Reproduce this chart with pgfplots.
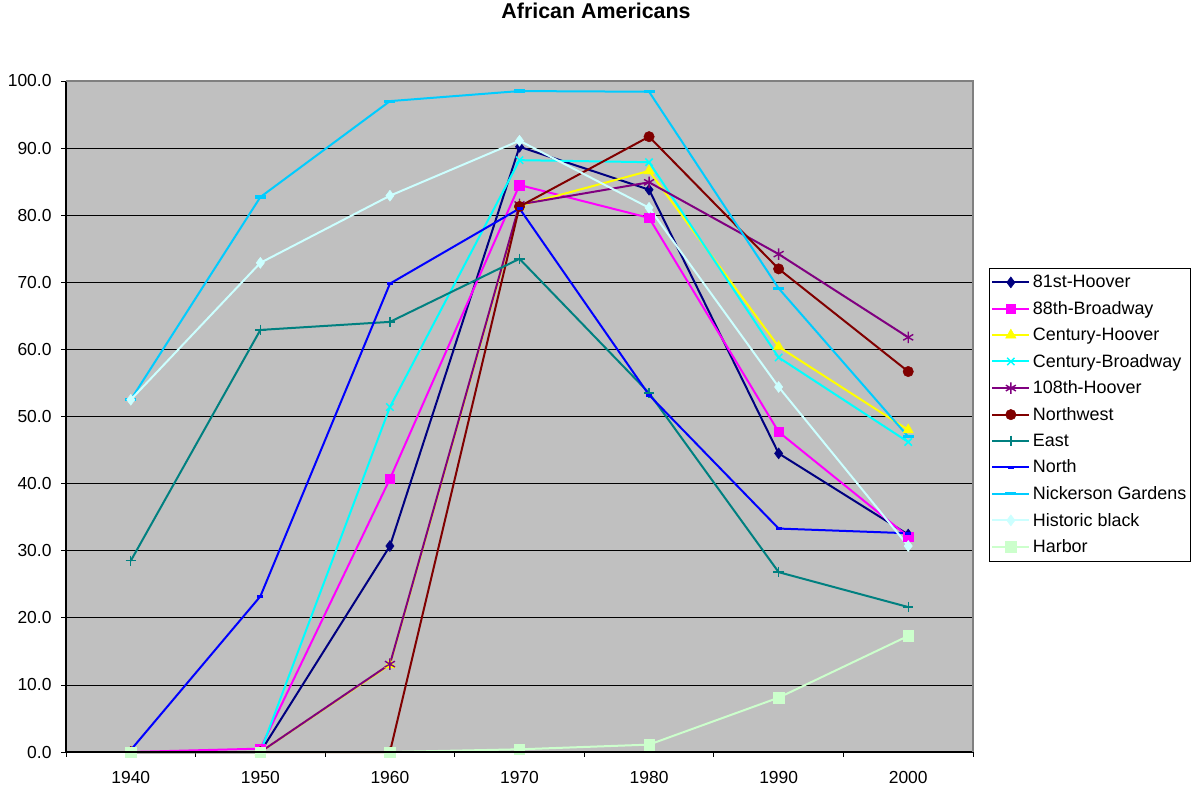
\documentclass[border=0pt]{standalone}
\usepackage{fontspec}
\setmainfont{Liberation Sans}
\usepackage{pgfplots}
\pgfplotsset{compat=1.18}
\definecolor{cNavy}{HTML}{000080}
\definecolor{cMag}{HTML}{FF00FF}
\definecolor{cYel}{HTML}{FFFF00}
\definecolor{cCyan}{HTML}{00FFFF}
\definecolor{cPurp}{HTML}{800080}
\definecolor{cMaroon}{HTML}{800000}
\definecolor{cTeal}{HTML}{008080}
\definecolor{cBlue}{HTML}{0000FF}
\definecolor{cSky}{HTML}{00CCFF}
\definecolor{cLCyan}{HTML}{CCFFFF}
\definecolor{cLGreen}{HTML}{CCFFCC}
\definecolor{plotbg}{HTML}{C0C0C0}
\begin{document}
\begin{tikzpicture}
\useasboundingbox (-66bp,-38bp) rectangle (1128bp,752bp);
\begin{axis}[
  at={(0,0)}, anchor=south west,
  scale only axis, width=907bp, height=671bp,
  xmin=1935, xmax=2005, ymin=0, ymax=100,
  clip=false,
  axis background/.style={fill=plotbg},
  axis line style={draw=none},
  xtick={1935,1945,...,2005}, xticklabels={},
  extra x ticks={1940,1950,1960,1970,1980,1990,2000},
  extra x tick labels={1940,1950,1960,1970,1980,1990,2000},
  extra x tick style={major tick length=0pt, grid=none},
  ytick={0,10,...,100},
  ymajorgrids, grid style={black, line width=0.8bp},
  tick align=outside, major tick length=5bp,
  tick style={black, line width=0.8bp},
  xtick pos=bottom, ytick pos=left,
  ticklabel style={font=\fontsize{17.5}{20}\selectfont},
  yticklabel style={/pgf/number format/.cd, fixed, fixed zerofill, precision=1, /tikz/.cd, xshift=-6bp},
  xticklabel style={yshift=-16bp},
  /pgf/number format/assume math mode=true,
  title={African Americans},
  title style={at={(0.5844,1.0954)}, anchor=center, font=\bfseries\fontsize{21.5}{25}\selectfont},
  legend cell align=left,
  legend style={at={(1.0176,0.7213)}, anchor=north west, draw=black, line width=0.8bp, fill=white,
    font=\fontsize{18}{21}\selectfont, row sep=9.1bp, inner xsep=2bp, inner ysep=5.5bp,
    nodes={inner xsep=2.5bp, inner ysep=1.5bp}},
  legend image code/.code={\draw[mark repeat=2,mark phase=2,#1] plot coordinates {(0bp,0bp) (18.5bp,0bp) (37bp,0bp)};},
  every axis plot/.append style={line width=2bp},
  after end axis/.code={
    \draw[black, line width=1.2bp] (rel axis cs:0,1) -- (rel axis cs:0,0) -- (rel axis cs:1,0);
    \draw[gray, line width=1.8bp] (rel axis cs:0,1) -- (rel axis cs:1,1) -- (rel axis cs:1,0);
  },
]
\addplot[color=cNavy, mark=diamond*, mark size=5.5bp, mark options={fill=cNavy, line width=0.5bp}]
  coordinates {(1940,0)(1950,0)(1960,30.7)(1970,90.2)(1980,83.8)(1990,44.5)(2000,32.4)};
\addlegendentry{81st-Hoover}
\addplot[color=cMag, mark=square*, mark size=4.8bp, mark options={fill=cMag, line width=0.5bp}]
  coordinates {(1940,0)(1950,0.5)(1960,40.7)(1970,84.5)(1980,79.6)(1990,47.7)(2000,32.1)};
\addlegendentry{88th-Broadway}
\addplot[color=cYel, mark=triangle*, mark size=6bp, mark options={fill=cYel, line width=0.5bp}]
  coordinates {(1940,0)(1950,0)(1960,13.0)(1970,81.4)(1980,86.6)(1990,60.4)(2000,48.0)};
\addlegendentry{Century-Hoover}
\addplot[color=cCyan, mark=x, mark size=5.2bp, mark options={line width=1.5bp}]
  coordinates {(1940,0)(1950,0)(1960,51.4)(1970,88.2)(1980,87.9)(1990,58.8)(2000,46.2)};
\addlegendentry{Century-Broadway}
\addplot[color=cPurp, mark=asterisk, mark size=5.8bp, mark options={line width=1.4bp}]
  coordinates {(1940,0)(1950,0)(1960,13.1)(1970,81.6)(1980,84.9)(1990,74.2)(2000,61.8)};
\addlegendentry{108th-Hoover}
\addplot[color=cMaroon, mark=*, mark size=5.2bp, mark options={fill=cMaroon, line width=0.5bp}]
  coordinates {(1940,0)(1950,0)(1960,0)(1970,81.3)(1980,91.7)(1990,72.0)(2000,56.7)};
\addlegendentry{Northwest}
\addplot[color=cTeal, mark=+, mark size=5.2bp, mark options={line width=1.4bp}]
  coordinates {(1940,28.5)(1950,62.9)(1960,64.1)(1970,73.5)(1980,53.5)(1990,26.8)(2000,21.6)};
\addlegendentry{East}
\addplot[color=cBlue, mark=-, mark size=3bp, mark options={line width=3bp}]
  coordinates {(1940,0.3)(1950,23.2)(1960,69.8)(1970,81.0)(1980,53.2)(1990,33.3)(2000,32.6)};
\addlegendentry{North}
\addplot[color=cSky, mark=-, mark size=5.5bp, mark options={line width=3.2bp}]
  coordinates {(1940,52.5)(1950,82.7)(1960,97.0)(1970,98.5)(1980,98.4)(1990,69.1)(2000,47.0)};
\addlegendentry{Nickerson Gardens}
\addplot[color=cLCyan, mark=diamond*, mark size=5.5bp, mark options={fill=cLCyan, line width=0.5bp}]
  coordinates {(1940,52.5)(1950,72.9)(1960,82.9)(1970,91.1)(1980,81.1)(1990,54.4)(2000,30.7)};
\addlegendentry{Historic black}
\addplot[color=cLGreen, mark=square*, mark size=5.2bp, mark options={fill=cLGreen, line width=0.5bp}]
  coordinates {(1940,0)(1950,0)(1960,0)(1970,0.4)(1980,1.1)(1990,8.1)(2000,17.3)};
\addlegendentry{Harbor}
\end{axis}
\end{tikzpicture}
\end{document}
